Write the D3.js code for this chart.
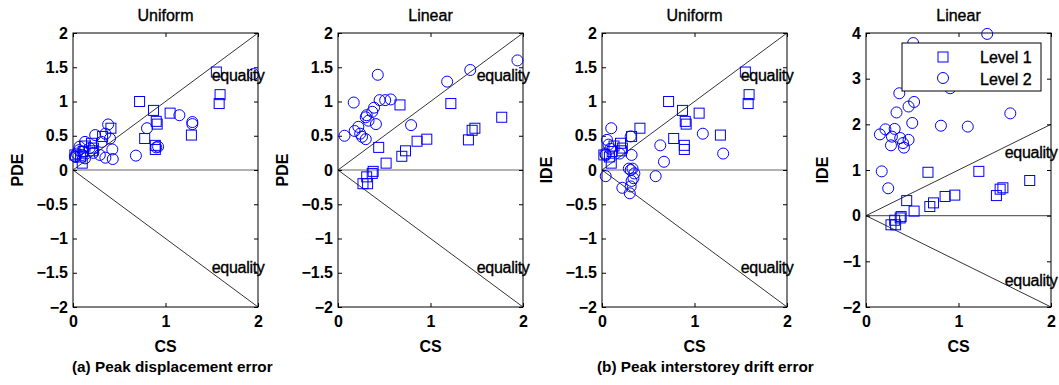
<!DOCTYPE html>
<html>
<head>
<meta charset="utf-8">
<script src="https://cdn.jsdelivr.net/npm/d3@7"></script>
<style>
    body { margin: 0; background: #fff; }
    svg text { font-family: "Liberation Sans", Arial, sans-serif; fill: #000; }
    svg text.heavy { stroke: #000; stroke-width: 0.35px; }
</style>
</head>
<body>
<div id="chart"></div>
<script>
// Level 1 is the same for PDE and IDE
var level1Uniform = [[0.02,0.22],[0.08,0.19],[0.10,0.10],[0.11,0.27],[0.13,0.35],[0.20,0.39],[0.22,0.32],
    [0.21,0.28],[0.32,0.49],[0.41,0.61],[0.72,1.00],[0.87,0.87],[0.90,0.71],[0.91,0.67],[1.05,0.83],
    [0.775,0.46],[0.89,0.36],[0.89,0.30],[1.28,0.51],[1.55,1.43],[1.59,1.10],[1.58,0.97]];

var level1Linear = [[0.27,-0.20],[0.32,-0.20],[0.31,-0.10],[0.37,-0.05],[0.38,-0.02],[0.44,0.33],[0.52,0.10],
    [0.67,0.95],[0.69,0.20],[0.73,0.28],[0.855,0.42],[0.96,0.45],[1.22,0.97],[1.41,0.44],[1.45,0.58],
    [1.48,0.61],[1.77,0.77]];

var level2UniformPDE = [[0.02,0.20],[0.03,0.19],[0.04,0.24],[0.065,0.29],[0.07,0.34],[0.10,0.22],[0.11,0.27],
    [0.13,0.41],[0.13,0.17],[0.18,0.32],[0.22,0.25],[0.24,0.51],[0.29,0.22],[0.31,0.41],[0.35,0.53],
    [0.35,0.18],[0.38,0.665],[0.40,0.46],[0.425,0.30],[0.43,0.16],[0.68,0.21],[0.80,0.61],[0.90,0.33],
    [0.92,0.34],[1.15,0.80],[1.29,0.70],[1.29,0.67],[1.95,1.40]];

var level2LinearPDE = [[0.07,0.50],[0.17,0.985],[0.18,0.57],[0.22,0.63],[0.24,0.53],[0.26,0.485],[0.30,0.45],
    [0.30,0.77],[0.31,0.80],[0.33,0.72],[0.37,0.85],[0.39,0.91],[0.41,0.67],[0.43,1.39],[0.45,1.02],
    [0.51,1.02],[0.57,1.03],[0.79,0.655],[1.18,1.29],[1.43,1.46],[1.94,1.60]];

var level2UniformIDE = [[0.036,0.24],[0.04,0.22],[0.054,0.44],[0.07,0.37],[0.09,0.31],[0.10,0.61],[0.19,0.24],
    [0.31,0.49],[0.32,0.22],[0.63,0.36],[0.67,0.12],[0.58,-0.09],[1.09,0.53],[1.31,0.24],[0.04,-0.09],
    [0.22,-0.26],[0.30,-0.34],[0.31,-0.24],[0.32,-0.16],[0.34,-0.12],[0.35,-0.05],[0.33,0.02],[0.29,0.02],[0.31,0.0]];

var level2LinearIDE = [[0.15,1.78],[0.17,0.97],[0.21,1.89],[0.24,0.60],[0.27,1.54],[0.28,1.73],[0.31,1.90],
    [0.33,2.26],[0.36,2.68],[0.37,1.70],[0.40,1.59],[0.41,1.49],[0.46,1.66],[0.46,2.39],[0.50,2.03],
    [0.52,2.49],[0.51,3.78],[0.81,1.97],[0.91,2.79],[1.10,1.95],[1.31,3.98],[1.56,2.24]];

var panelTitles = ["Uniform", "Linear", "Uniform", "Linear"];
var yLabels = ["PDE", "PDE", "IDE", "IDE"];
var xTicks = [0, 1, 2];
var yTicksSmall = [-2, -1.5, -1, -0.5, 0, 0.5, 1, 1.5, 2];
var yTicksWide = [-2, -1, 0, 1, 2, 3, 4];
var legendLabels = ["Level 1", "Level 2"];
var captions = ["(a) Peak displacement error", "(b) Peak interstorey drift error"];
var equalityLabel = "equality";

var blue = "#0000ff";

var svg = d3.select("#chart").append("svg")
    .attr("width", 1059)
    .attr("height", 385);

var plotTop = 33, plotBottom = 307, panelWidth = 185;

var panels = [
    {left: 73,  yMax: 2, yTicks: yTicksSmall, sq: level1Uniform, ci: level2UniformPDE, labelX: 23},
    {left: 338, yMax: 2, yTicks: yTicksSmall, sq: level1Linear,  ci: level2LinearPDE,  labelX: 288},
    {left: 602, yMax: 2, yTicks: yTicksSmall, sq: level1Uniform, ci: level2UniformIDE, labelX: 552},
    {left: 866, yMax: 4, yTicks: yTicksWide,  sq: level1Linear,  ci: level2LinearIDE,  labelX: 828}
];

var fmt = d3.format("");

panels.forEach(function(p, i) {
    var x = d3.scaleLinear().domain([0, 2]).range([p.left, p.left + panelWidth]);
    var y = d3.scaleLinear().domain([-2, p.yMax]).range([plotBottom, plotTop]);

    var g = svg.append("g");

    // reference lines
    g.append("line")
        .attr("x1", x(0)).attr("x2", x(2))
        .attr("y1", y(0)).attr("y2", y(0))
        .attr("stroke", "#666").attr("stroke-width", 1.2);
    g.append("line")
        .attr("x1", x(0)).attr("y1", y(0))
        .attr("x2", x(2)).attr("y2", y(2))
        .attr("stroke", "#000").attr("stroke-width", 0.8);
    g.append("line")
        .attr("x1", x(0)).attr("y1", y(0))
        .attr("x2", x(2)).attr("y2", y(-2))
        .attr("stroke", "#000").attr("stroke-width", 0.8);

    // axes, ticks pointing inwards on all four sides
    var axisStyle = function(sel) {
        sel.select(".domain").remove();
        sel.selectAll(".tick line").attr("stroke", "#000");
        sel.selectAll("text")
            .style("font-size", "16px")
            .style("font-weight", "bold");
    };
    g.append("g")
        .attr("transform", "translate(0," + plotBottom + ")")
        .call(d3.axisBottom(x).tickValues(xTicks).tickFormat(fmt).tickSizeInner(-4).tickSizeOuter(0).tickPadding(9))
        .call(axisStyle);
    g.append("g")
        .attr("transform", "translate(0," + plotTop + ")")
        .call(d3.axisTop(x).tickValues(xTicks).tickFormat("").tickSizeInner(-4).tickSizeOuter(0))
        .call(axisStyle);
    g.append("g")
        .attr("transform", "translate(" + p.left + ",0)")
        .call(d3.axisLeft(y).tickValues(p.yTicks).tickFormat(fmt).tickSizeInner(-4).tickSizeOuter(0).tickPadding(5))
        .call(axisStyle);
    g.append("g")
        .attr("transform", "translate(" + (p.left + panelWidth) + ",0)")
        .call(d3.axisRight(y).tickValues(p.yTicks).tickFormat("").tickSizeInner(-4).tickSizeOuter(0))
        .call(axisStyle);

    g.append("rect")
        .attr("x", p.left).attr("y", plotTop)
        .attr("width", panelWidth).attr("height", plotBottom - plotTop)
        .attr("fill", "none").attr("stroke", "#000").attr("stroke-width", 1);

    // markers
    g.selectAll("rect.sq")
        .data(p.sq)
        .enter().append("rect")
        .attr("class", "sq")
        .attr("x", function(d) { return x(d[0]) - 5; })
        .attr("y", function(d) { return y(d[1]) - 5; })
        .attr("width", 10).attr("height", 10)
        .attr("fill", "none").attr("stroke", blue).attr("stroke-width", 1);

    g.selectAll("circle.ci")
        .data(p.ci)
        .enter().append("circle")
        .attr("class", "ci")
        .attr("cx", function(d) { return x(d[0]); })
        .attr("cy", function(d) { return y(d[1]); })
        .attr("r", 5.5)
        .attr("fill", "none").attr("stroke", blue).attr("stroke-width", 1);

    // equality labels
    [1.38, -1.42].forEach(function(v) {
        g.append("text")
            .attr("class", "heavy")
            .attr("x", x(1.5)).attr("y", y(v))
            .attr("dy", "0.35em")
            .style("font-size", "16px")
            .style("letter-spacing", "-0.3px")
            .text(equalityLabel);
    });

    g.append("text")
        .attr("class", "heavy")
        .attr("x", p.left + panelWidth / 2).attr("y", 21)
        .attr("text-anchor", "middle")
        .style("font-size", "16px")
        .text(panelTitles[i]);

    g.append("text")
        .attr("x", p.left + panelWidth / 2).attr("y", 352)
        .attr("text-anchor", "middle")
        .style("font-size", "16px").style("font-weight", "bold")
        .text("CS");

    g.append("text")
        .attr("transform", "translate(" + p.labelX + "," + ((plotTop + plotBottom) / 2) + ") rotate(-90)")
        .attr("text-anchor", "middle")
        .style("font-size", "16px").style("font-weight", "bold")
        .text(yLabels[i]);
});

// legend in the last panel
var legend = svg.append("g").attr("transform", "translate(902,43)");
legend.append("rect")
    .attr("width", 139).attr("height", 48)
    .attr("fill", "#fff").attr("stroke", "#000").attr("stroke-width", 1);
legend.append("rect")
    .attr("x", 36).attr("y", 9).attr("width", 10).attr("height", 10)
    .attr("fill", "none").attr("stroke", blue);
legend.append("circle")
    .attr("cx", 41).attr("cy", 35).attr("r", 5.5)
    .attr("fill", "none").attr("stroke", blue);
legend.selectAll("text.lab")
    .data(legendLabels)
    .enter().append("text")
    .attr("class", "lab heavy")
    .attr("x", 78)
    .attr("y", function(d, i) { return 20 + i * 22; })
    .style("font-size", "16px")
    .text(function(d) { return d; });

// captions
svg.append("text").attr("x", 72).attr("y", 372)
    .style("font-size", "15.3px").style("font-weight", "bold")
    .text(captions[0]);
svg.append("text").attr("x", 597).attr("y", 372)
    .style("font-size", "15.3px").style("font-weight", "bold")
    .text(captions[1]);
</script>
</body>
</html>
